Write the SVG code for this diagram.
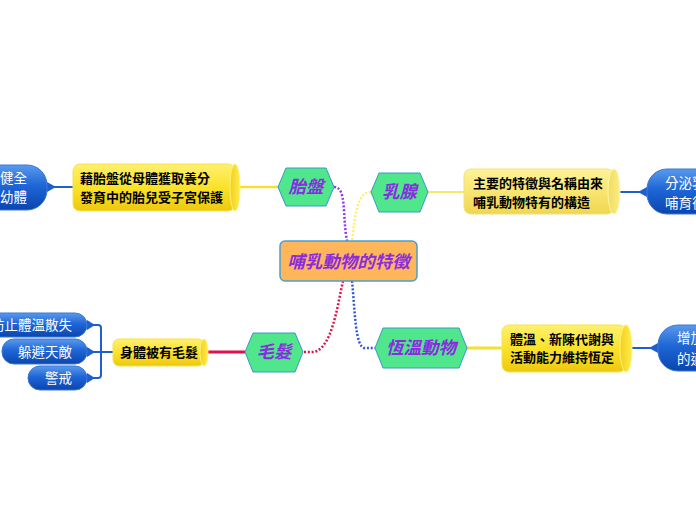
<svg xmlns="http://www.w3.org/2000/svg" width="696" height="520" viewBox="0 0 696 520">
<defs>
<linearGradient id="gBlue" x1="0" y1="0" x2="0" y2="1">
<stop offset="0" stop-color="#5A9AEC"/>
<stop offset="0.45" stop-color="#1F66D6"/>
<stop offset="1" stop-color="#0A45B0"/>
</linearGradient>
<linearGradient id="gYel" x1="0" y1="0" x2="0" y2="1">
<stop offset="0" stop-color="#FFF070"/>
<stop offset="0.5" stop-color="#FBE22A"/>
<stop offset="1" stop-color="#EDC810"/>
</linearGradient>
<linearGradient id="gYelPale" x1="0" y1="0" x2="0" y2="1">
<stop offset="0" stop-color="#FCF29A"/>
<stop offset="0.5" stop-color="#F8E672"/>
<stop offset="1" stop-color="#F0D650"/>
</linearGradient>
<linearGradient id="gCap" x1="0" y1="0" x2="1" y2="0">
<stop offset="0" stop-color="#F2D018"/>
<stop offset="1" stop-color="#FFEB50"/>
</linearGradient>
<linearGradient id="gCapPale" x1="0" y1="0" x2="1" y2="0">
<stop offset="0" stop-color="#F2DC5A"/>
<stop offset="1" stop-color="#FAEC8A"/>
</linearGradient>
</defs>
<style>
.hex{fill:#50E68C;stroke:#3A96C8;stroke-width:1}
.htxt{font-family:"Noto Sans CJK TC","Noto Sans CJK SC",sans-serif;font-size:17.5px;font-weight:bold;font-style:italic;fill:#8A2BE2;text-anchor:middle}
.ctxt{font-family:"Noto Sans CJK TC","Noto Sans CJK SC",sans-serif;font-size:13px;font-weight:bold;fill:#000}
.ptxt{font-family:"Noto Sans CJK TC","Noto Sans CJK SC",sans-serif;font-size:13.5px;fill:#fff}
.pill{fill:url(#gBlue);stroke:#3A78D8;stroke-width:1}
.cyl{fill:url(#gYel);stroke:#F7E24A;stroke-width:1}
.cap{fill:url(#gCap);stroke:#FFF27A;stroke-width:1}
.cylp{fill:url(#gYelPale);stroke:#F3E07A;stroke-width:1}
.capp{fill:url(#gCapPale);stroke:#FFF6A8;stroke-width:1}
.dot{fill:none;stroke-width:2.5;stroke-dasharray:2 1.8}
.blue{fill:none;stroke:#1E5FD0;stroke-width:2}
.tri{fill:#1E5FD0}
</style>

<g id="connectors">
<path class="dot" stroke="#9933EE" d="M334,187 C347,187 342,215 347,241"/>
<path class="dot" stroke="#FFEE66" d="M371,192 C357,192 355,215 352,241"/>
<path class="dot" stroke="#E0104A" d="M343,281 C338,302 332,352 312,352 L303,352"/>
<path class="dot" stroke="#3355DD" d="M352,281 C355,310 355,348 365,348 L375,348"/>
<path fill="none" stroke="#F5E030" stroke-width="2.5" d="M278,187 L240,187"/>
<path fill="none" stroke="#F8E868" stroke-width="2" d="M428,192 L464,192"/>
<path fill="none" stroke="#E0104A" stroke-width="3" d="M245,352 L208,352"/>
<path fill="none" stroke="#F5E030" stroke-width="3" d="M467,348 L502,348"/>
<path class="blue" d="M73,187 L47,187"/>
<polygon class="tri" points="47,182 47,192 56,187"/>
<path class="blue" d="M620,192 L647,192"/>
<polygon class="tri" points="647,187 647,197 638,192"/>
<path class="blue" d="M632,348 L658,348"/>
<polygon class="tri" points="658,343 658,353 649,348"/>
<path class="blue" d="M113,352 L88,352 M88,325 L98,325 Q101,325 101,328 L101,375 Q101,378 98,378 L88,378"/>
<polygon class="tri" points="87,320 87,330 95,325"/>
<polygon class="tri" points="87,347 87,357 95,352"/>
<polygon class="tri" points="87,373 87,383 95,378"/>
</g>

<g id="center">
<rect x="280" y="241" width="137" height="40" rx="5" fill="#FFB55A" stroke="#4A9FD0" stroke-width="1.5"/>
<text class="htxt" x="348.5" y="268" font-size="19">哺乳動物的特徵</text>
</g>

<g id="n-placenta">
<polygon class="hex" points="278,187 286,168 326,168 334,187 326,206 286,206"/>
<text class="htxt" x="306" y="193">胎盤</text>
</g>
<g id="n-mammary">
<polygon class="hex" points="371,192 379,173 420,173 428,192 420,212 379,212"/>
<text class="htxt" x="399.5" y="198">乳腺</text>
</g>
<g id="n-hair">
<polygon class="hex" points="245,352 253,333 295,333 303,352 295,372 253,372"/>
<text class="htxt" x="274" y="358">毛髮</text>
</g>
<g id="n-warm">
<polygon class="hex" points="375,348 383,328 459,328 467,348 459,368 383,368"/>
<text class="htxt" x="421" y="354">恆溫動物</text>
</g>

<g id="d-placenta">
<rect class="cyl" x="73" y="164" width="162" height="47" rx="7"/>
<ellipse class="cap" cx="235" cy="187.5" rx="5" ry="23.5"/>
<text class="ctxt" x="80" y="183">藉胎盤從母體獲取養分</text>
<text class="ctxt" x="80" y="202">發育中的胎兒受子宮保護</text>
</g>
<g id="d-mammary">
<rect class="cylp" x="464" y="169" width="150" height="45" rx="7"/>
<ellipse class="capp" cx="614" cy="191.5" rx="6" ry="22.5"/>
<text class="ctxt" x="473" y="188">主要的特徵與名稱由來</text>
<text class="ctxt" x="473" y="207">哺乳動物特有的構造</text>
</g>
<g id="d-hair">
<rect class="cyl" x="113" y="339" width="91" height="27" rx="6"/>
<ellipse class="cap" cx="204" cy="352.5" rx="4" ry="13.5"/>
<text class="ctxt" x="120" y="357">身體被有毛髮</text>
</g>
<g id="d-warm">
<rect class="cyl" x="502" y="325" width="124" height="47" rx="7"/>
<ellipse class="cap" cx="626" cy="348.5" rx="6" ry="23.5"/>
<text class="ctxt" x="510" y="344">體溫、新陳代謝與</text>
<text class="ctxt" x="510" y="362">活動能力維持恆定</text>
</g>

<g id="p-placenta">
<rect class="pill" x="-40" y="165" width="87" height="45" rx="20"/>
<text class="ptxt" x="27" y="183" text-anchor="end">健全</text>
<text class="ptxt" x="27" y="202" text-anchor="end">幼體</text>
</g>
<g id="p-mammary">
<rect class="pill" x="647" y="169" width="100" height="45" rx="20"/>
<text class="ptxt" x="665" y="188">分泌乳汁</text>
<text class="ptxt" x="665" y="208">哺育後代</text>
</g>
<g id="p-warm">
<rect class="pill" x="658" y="325" width="100" height="46" rx="20"/>
<text class="ptxt" x="677" y="343">增加</text>
<text class="ptxt" x="677" y="364">的適</text>
</g>
<g id="p-hair1">
<rect class="pill" x="-28" y="313" width="115" height="24" rx="12"/>
<text class="ptxt" x="72" y="330" text-anchor="end">防止體溫散失</text>
</g>
<g id="p-hair2">
<rect class="pill" x="2" y="339" width="85" height="25" rx="12"/>
<text class="ptxt" x="72" y="357" text-anchor="end">躲避天敵</text>
</g>
<g id="p-hair3">
<rect class="pill" x="28" y="366" width="59" height="24" rx="12"/>
<text class="ptxt" x="72" y="383" text-anchor="end">警戒</text>
</g>
</svg>
